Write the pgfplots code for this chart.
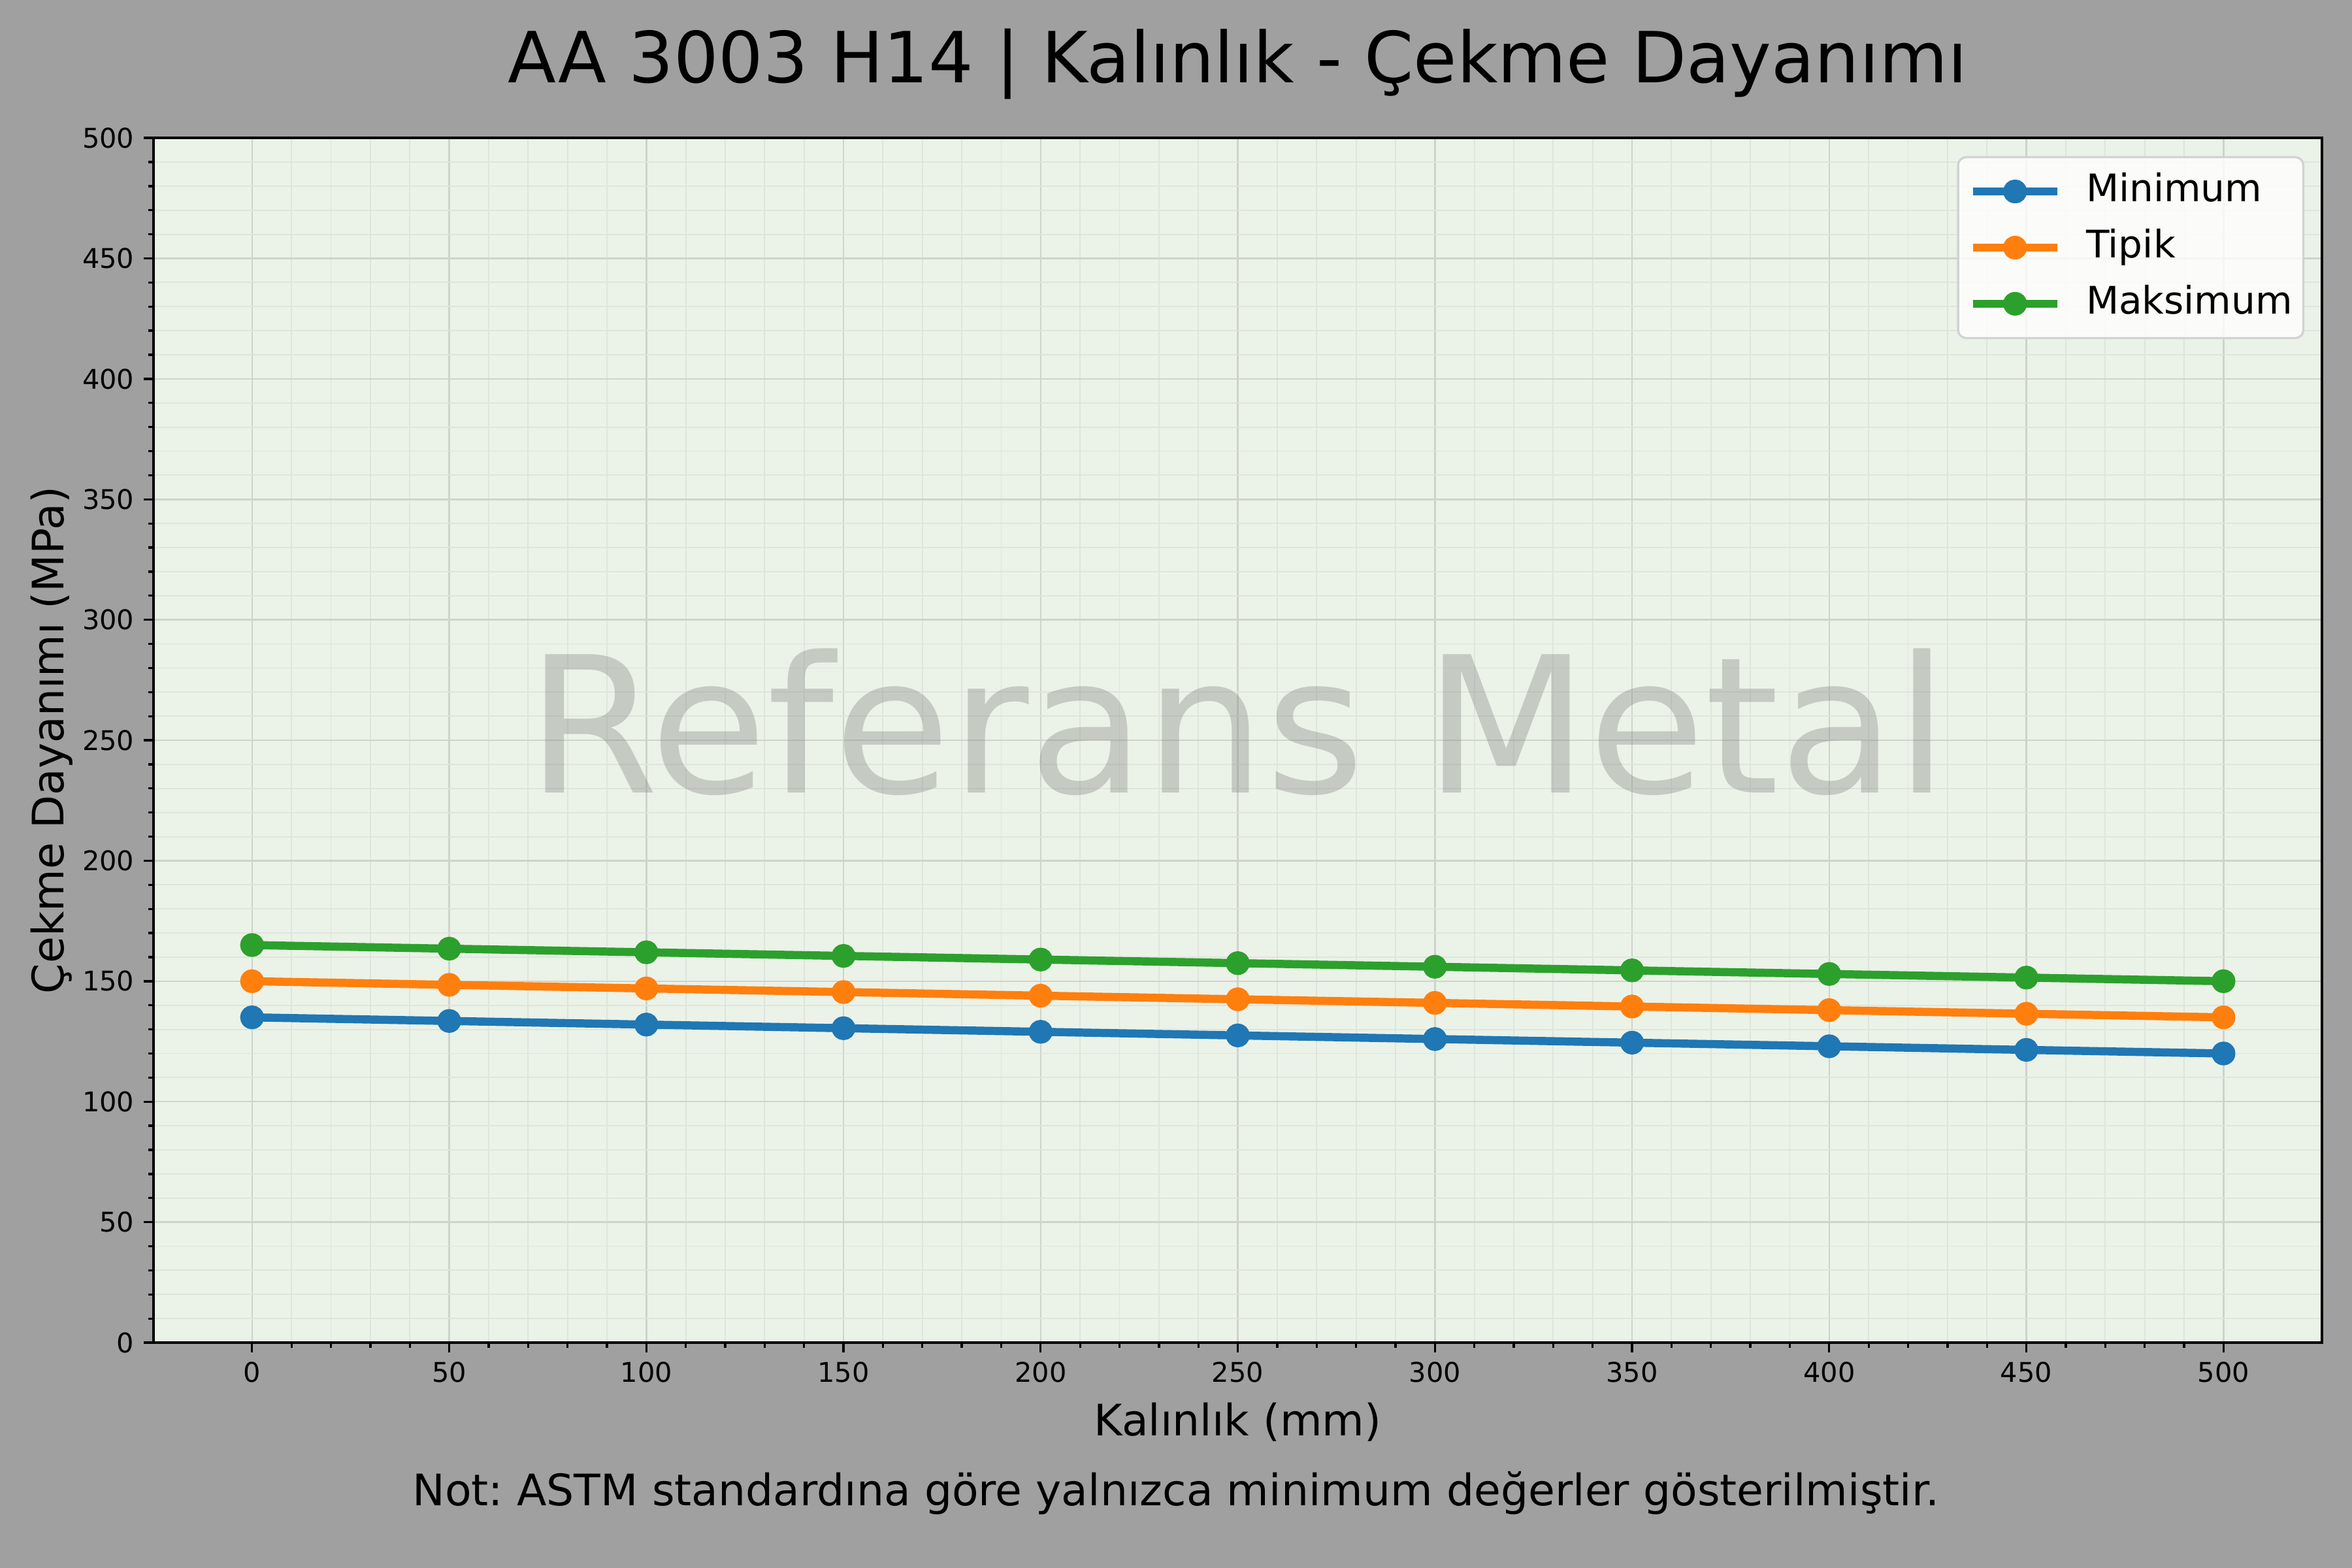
\documentclass[border=0pt]{standalone}
\usepackage{fontspec}
\setmainfont{DejaVu Sans}
\usepackage{pgfplots}
\pgfplotsset{compat=1.18}
\frenchspacing

\definecolor{figbg}{RGB}{160,160,160}
\definecolor{axbg}{RGB}{235,242,232}
\definecolor{gmaj}{RGB}{206,211,203}
\definecolor{gmin}{RGB}{223,229,220}
\definecolor{cblue}{RGB}{31,119,180}
\definecolor{corange}{RGB}{255,127,14}
\definecolor{cgreen}{RGB}{44,160,44}
\definecolor{legedge}{RGB}{210,210,210}
\definecolor{wmark}{RGB}{128,128,128}

\pgfplotstableread{
x    mn     tp     mx
0    135    150    165
50   133.5  148.5  163.5
100  132    147    162
150  130.5  145.5  160.5
200  129    144    159
250  127.5  142.5  157.5
300  126    141    156
350  124.5  139.5  154.5
400  123    138    153
450  121.5  136.5  151.5
500  120    135    150
}\datatable

\begin{document}
\begin{tikzpicture}
\fill[figbg] (0,0) rectangle (867.24pt,578.16pt);
\begin{axis}[
    at={(56.6pt,83.1pt)}, anchor=south west,
    scale only axis,
    width=799.6pt, height=444.2pt,
    xmin=-25, xmax=525, ymin=0, ymax=500,
    xtick={0,50,...,500}, ytick={0,50,...,500},
    minor x tick num=4, minor y tick num=4,
    tick align=outside, tick pos=left,
    major tick length=3.6pt, minor tick length=2pt,
    every tick/.style={black, line width=0.8pt},
    axis line style={line width=0.85pt},
    grid=both,
    major grid style={gmaj, line width=0.6pt},
    minor grid style={gmin, line width=0.45pt},
    axis background/.style={fill=axbg},
    /pgf/number format/assume math mode=true,
    ticklabel style={font=\fontsize{10}{12}\selectfont},
    title={AA 3003 H14 | Kalınlık - Çekme Dayanımı},
    title style={font=\fontsize{26}{31}\selectfont, at={(axis description cs:0.5,1)}, anchor=base, yshift=14.5pt},
    xlabel={Kalınlık (mm)},
    xlabel style={font=\fontsize{16}{19}\selectfont, at={(axis description cs:0.5,0)}, anchor=base, yshift=-34.2pt},
    ylabel={Çekme Dayanımı (MPa)},
    ylabel style={font=\fontsize{16}{19}\selectfont, at={(axis description cs:-0.0415,0.5)}, anchor=base},
    legend cell align=left,
    legend style={at={(rel axis cs:1,1)}, anchor=north east, xshift=-6.5pt, yshift=-6.7pt,
        font=\fontsize{14}{17}\selectfont,
        fill=white, fill opacity=0.8, text opacity=1, draw opacity=1,
        draw=legedge, line width=0.8pt, rounded corners=3pt,
        inner xsep=4pt, inner ysep=5.9pt, row sep=7.2pt,
        nodes={inner sep=0pt, text height=10.5pt, text depth=3pt}},
    legend image code/.code={
        \draw[#1, mark repeat=2, mark phase=2] plot coordinates {(0pt,0pt) (15.5pt,0pt) (31pt,0pt)};
        \path[draw=none, fill=none] (41.6pt,0pt) circle (0.1pt);
    },
    every axis plot/.append style={line width=3pt, mark=*, mark size=2.9pt, line join=round},
]
\node[anchor=base, font=\fontsize{70}{84}\selectfont, text=wmark, text opacity=0.35]
    at (axis cs:250,228.3) {Referans Metal};
\addplot[cblue, mark options={fill=cblue, draw=cblue}] table[x=x, y=mn] {\datatable};
\addlegendentry{Minimum}
\addplot[corange, mark options={fill=corange, draw=corange}] table[x=x, y=tp] {\datatable};
\addlegendentry{Tipik}
\addplot[cgreen, mark options={fill=cgreen, draw=cgreen}] table[x=x, y=mx] {\datatable};
\addlegendentry{Maksimum}
\end{axis}
\node[anchor=base, font=\fontsize{16}{19}\selectfont] at (433.6pt,23.1pt)
    {Not: ASTM standardına göre yalnızca minimum değerler gösterilmiştir.};
\pgfresetboundingbox
\path (0,0) rectangle (867.24pt,578.16pt);
\end{tikzpicture}
\end{document}
